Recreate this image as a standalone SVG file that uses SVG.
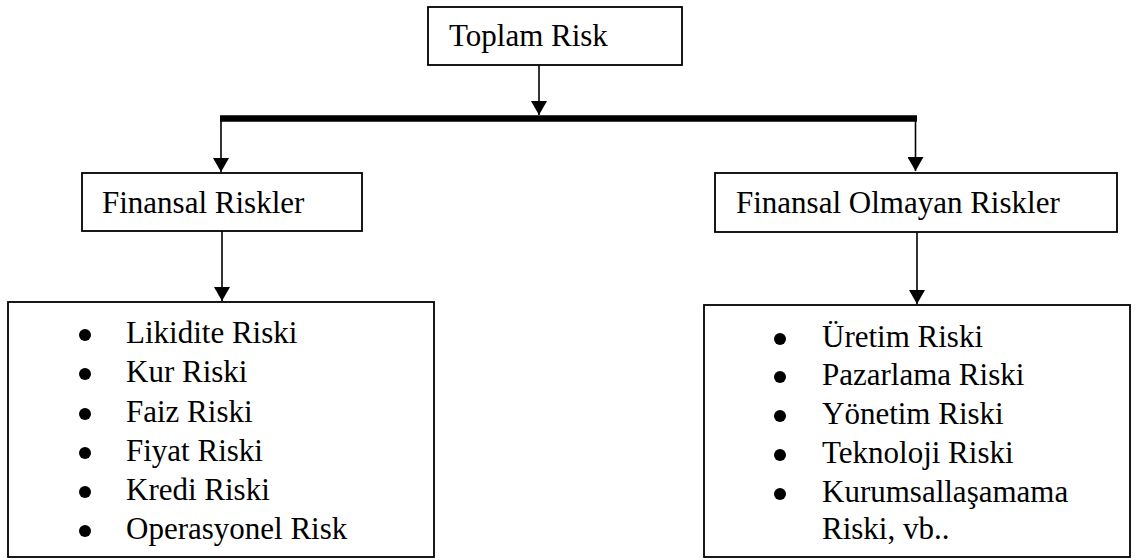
<svg xmlns="http://www.w3.org/2000/svg" width="1136" height="560" viewBox="0 0 1136 560">
<defs>
<style>
.box{fill:#fff;stroke:#000;stroke-width:1.8}
.t{font-family:"Liberation Serif","Times New Roman",serif;font-size:31px;fill:#000}
.ln{stroke:#000;stroke-width:1.6;fill:none}
.bar{stroke:#000;stroke-width:6.5;fill:none}
.dot{fill:#000}
</style>
<marker id="ah" viewBox="0 0 14 16" refX="14" refY="8" markerWidth="14" markerHeight="16" markerUnits="userSpaceOnUse" orient="auto">
<path d="M0,0 L14,8 L0,16 Z" fill="#000"/>
</marker>
</defs>
<rect width="1136" height="560" fill="#fff"/>
<g id="connectors">
<line class="bar" x1="220" y1="118.5" x2="917" y2="118.5"/>
<line class="ln" x1="539" y1="65" x2="539" y2="115" marker-end="url(#ah)"/>
<line class="ln" x1="221" y1="118" x2="221" y2="172" marker-end="url(#ah)"/>
<line class="ln" x1="915.5" y1="118" x2="915.5" y2="171" marker-end="url(#ah)"/>
<line class="ln" x1="222" y1="231" x2="222" y2="301" marker-end="url(#ah)"/>
<line class="ln" x1="917" y1="232" x2="917" y2="304" marker-end="url(#ah)"/>
</g>
<g id="toplam">
<rect class="box" x="428" y="7" width="254" height="58"/>
<text class="t" x="449" y="46">Toplam Risk</text>
</g>
<g id="finansal">
<rect class="box" x="82" y="173" width="280" height="58"/>
<text class="t" x="102" y="213">Finansal Riskler</text>
</g>
<g id="finansal-olmayan">
<rect class="box" x="715" y="173" width="402" height="59"/>
<text class="t" x="736" y="213">Finansal Olmayan Riskler</text>
</g>
<g id="finansal-list">
<rect class="box" x="8" y="302" width="426" height="255"/>
<circle class="dot" cx="85" cy="335" r="6"/>
<circle class="dot" cx="85" cy="374" r="6"/>
<circle class="dot" cx="85" cy="414" r="6"/>
<circle class="dot" cx="85" cy="453" r="6"/>
<circle class="dot" cx="85" cy="492" r="6"/>
<circle class="dot" cx="85" cy="531" r="6"/>
<text class="t" x="126" y="343">Likidite Riski</text>
<text class="t" x="126" y="382">Kur Riski</text>
<text class="t" x="126" y="422">Faiz Riski</text>
<text class="t" x="126" y="461">Fiyat Riski</text>
<text class="t" x="126" y="500">Kredi Riski</text>
<text class="t" x="126" y="539">Operasyonel Risk</text>
</g>
<g id="olmayan-list">
<rect class="box" x="704" y="305" width="426" height="252"/>
<circle class="dot" cx="780" cy="339" r="6"/>
<circle class="dot" cx="780" cy="377" r="6"/>
<circle class="dot" cx="780" cy="416" r="6"/>
<circle class="dot" cx="780" cy="455" r="6"/>
<circle class="dot" cx="780" cy="494" r="6"/>
<text class="t" x="822" y="347">Üretim Riski</text>
<text class="t" x="822" y="385">Pazarlama Riski</text>
<text class="t" x="822" y="424">Yönetim Riski</text>
<text class="t" x="822" y="463">Teknoloji Riski</text>
<text class="t" x="822" y="502">Kurumsallaşamama</text>
<text class="t" x="822" y="539">Riski, vb..</text>
</g>
</svg>
